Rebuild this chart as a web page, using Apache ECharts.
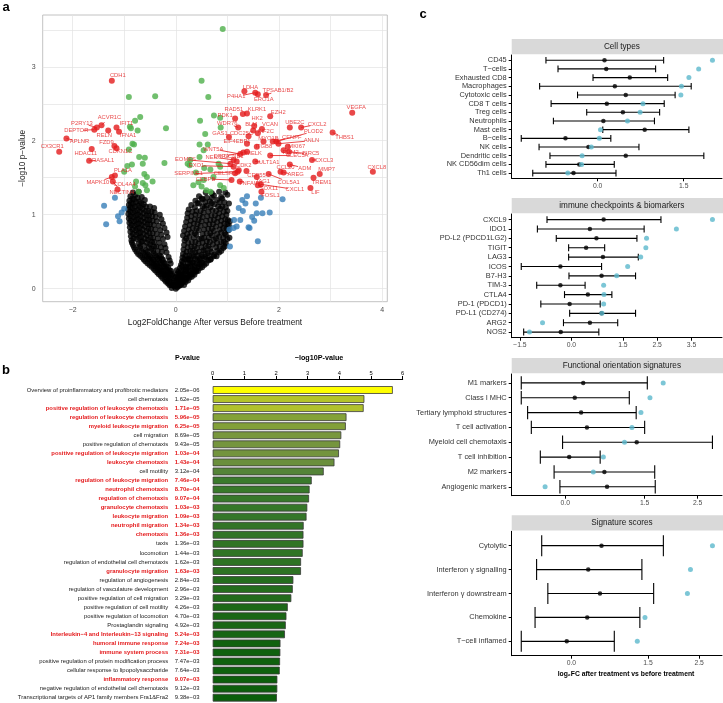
<!DOCTYPE html>
<html><head><meta charset="utf-8">
<script src="https://cdn.jsdelivr.net/npm/echarts@6/dist/echarts.min.js"></script>
<style>html,body{margin:0;padding:0;background:#fff}#c{width:723px;height:703px}</style>
</head><body><div id="c"></div>
<script>
// ================= DATA =================
// ---- Panel a : volcano (x = log2FC, y = -log10 p) ----
const volcanoBlack = [
[-0.08,0.01],[-0.03,0.03],[0.0,0.0],[0.03,0.02],[0.07,0.04],
[-0.15,0.07],[-0.09,0.05],[-0.04,0.08],[0.02,0.06],[0.06,0.09],[0.11,0.07],[0.16,0.05],
[-0.22,0.12],[-0.16,0.1],[-0.1,0.13],[-0.04,0.11],[0.03,0.14],[0.09,0.12],[0.15,0.1],[0.21,0.13],[0.24,0.11],
[-0.29,0.17],[-0.22,0.19],[-0.15,0.16],[-0.08,0.18],[0.0,0.16],[0.07,0.19],[0.14,0.17],[0.2,0.15],[0.27,0.18],[0.31,0.16],
[-0.36,0.22],[-0.29,0.24],[-0.22,0.21],[-0.15,0.23],[-0.07,0.2],[0.05,0.23],[0.12,0.21],[0.19,0.24],[0.26,0.22],[0.33,0.2],[0.39,0.23],
[-0.43,0.27],[-0.36,0.29],[-0.28,0.26],[-0.2,0.28],[-0.12,0.25],[0.08,0.28],[0.16,0.26],[0.24,0.29],[0.32,0.27],[0.4,0.25],[0.47,0.28],
[-0.51,0.32],[-0.43,0.34],[-0.35,0.31],[-0.27,0.33],[-0.18,0.3],[-0.1,0.34],[0.1,0.32],[0.19,0.3],[0.28,0.34],[0.37,0.31],[0.46,0.33],[0.55,0.32],
[-0.59,0.37],[-0.5,0.39],[-0.41,0.36],[-0.32,0.38],[-0.23,0.35],[-0.12,0.38],[0.12,0.37],[0.22,0.39],[0.32,0.36],[0.42,0.38],[0.52,0.35],[0.63,0.38],
[-0.65,0.42],[-0.56,0.44],[-0.47,0.41],[-0.37,0.43],[-0.27,0.4],[-0.14,0.43],[0.13,0.42],[0.24,0.4],[0.35,0.44],[0.46,0.41],[0.57,0.43],[0.68,0.4],[0.74,0.44],
[-0.73,0.47],[-0.63,0.49],[-0.53,0.46],[-0.43,0.48],[-0.32,0.45],[-0.18,0.49],[0.14,0.47],[0.26,0.45],[0.38,0.49],[0.5,0.46],[0.62,0.48],[0.74,0.46],[0.84,0.49],
[-0.79,0.53],[-0.69,0.55],[-0.58,0.52],[-0.47,0.54],[-0.35,0.51],[-0.2,0.55],[0.15,0.53],[0.28,0.51],[0.41,0.55],[0.54,0.52],[0.67,0.54],[0.8,0.51],[0.92,0.55],
[-0.83,0.59],[-0.72,0.61],[-0.61,0.58],[-0.5,0.6],[-0.38,0.57],[-0.22,0.6],[0.16,0.59],[0.3,0.57],[0.44,0.61],[0.58,0.58],[0.72,0.6],[0.85,0.57],[0.97,0.61],
[-0.86,0.65],[-0.76,0.67],[-0.65,0.64],[-0.54,0.66],[-0.42,0.63],[-0.25,0.67],[0.17,0.65],[0.31,0.63],[0.45,0.67],[0.6,0.64],[0.74,0.66],[0.88,0.63],[1.0,0.67],
[-0.87,0.71],[-0.77,0.73],[-0.67,0.7],[-0.56,0.72],[-0.44,0.69],[-0.28,0.73],[-0.16,0.7],[0.14,0.72],[0.26,0.7],[0.4,0.73],[0.55,0.69],[0.7,0.72],[0.84,0.7],[0.97,0.73],[1.04,0.69],
[-0.88,0.77],[-0.78,0.79],[-0.68,0.76],[-0.57,0.78],[-0.45,0.75],[-0.3,0.79],[-0.18,0.76],[0.16,0.78],[0.3,0.76],[0.45,0.79],[0.6,0.75],[0.74,0.78],[0.88,0.76],[1.02,0.79],
[-0.89,0.83],[-0.8,0.85],[-0.7,0.82],[-0.6,0.84],[-0.48,0.81],[-0.33,0.85],[-0.22,0.82],[0.18,0.84],[0.33,0.82],[0.48,0.85],[0.63,0.81],[0.78,0.84],[0.92,0.82],[1.03,0.85],
[-0.9,0.89],[-0.81,0.91],[-0.71,0.88],[-0.61,0.9],[-0.5,0.87],[-0.37,0.91],[-0.25,0.88],[0.2,0.9],[0.35,0.88],[0.5,0.91],[0.65,0.87],[0.8,0.9],[0.94,0.88],[1.05,0.91],
[-0.91,0.95],[-0.82,0.97],[-0.72,0.94],[-0.62,0.96],[-0.51,0.93],[-0.39,0.97],[-0.28,0.94],[0.22,0.96],[0.37,0.94],[0.52,0.97],[0.67,0.93],[0.82,0.96],[0.96,0.94],
[-0.92,1.01],[-0.83,1.03],[-0.73,1.0],[-0.63,1.02],[-0.52,0.99],[-0.41,1.03],[-0.31,1.0],[0.23,1.02],[0.38,1.0],[0.54,1.03],[0.69,0.99],[0.84,1.02],[0.98,1.0],
[-0.92,1.07],[-0.84,1.09],[-0.74,1.06],[-0.64,1.08],[-0.53,1.05],[-0.42,1.09],[0.25,1.07],[0.4,1.05],[0.56,1.09],[0.71,1.06],[0.86,1.08],[1.0,1.05],
[-0.91,1.13],[-0.83,1.15],[-0.73,1.12],[-0.62,1.14],[-0.5,1.11],[0.3,1.13],[0.45,1.15],[0.6,1.12],[0.75,1.14],[0.9,1.11],[1.03,1.15],
[-0.9,1.19],[-0.81,1.21],[-0.71,1.18],[-0.6,1.2],[0.38,1.19],[0.52,1.21],[0.66,1.18],[0.8,1.2],[0.94,1.17],
[-0.88,1.25],[-0.78,1.27],[-0.66,1.24],[0.45,1.25],[0.6,1.23],[0.74,1.26],[0.88,1.24],[1.0,1.27],
[-0.83,1.3],[-0.72,1.31],[0.58,1.3],[0.7,1.29],[0.84,1.31],[0.96,1.3],
[-0.12,0.045],[-0.05,0.05],[0.05,0.04],[0.1,0.05],
[-0.19,0.095],[-0.12,0.1],[0.0,0.09],[0.08,0.1],[0.13,0.095],[0.19,0.09],
[-0.26,0.145],[-0.19,0.15],[-0.12,0.14],[-0.01,0.15],[0.06,0.14],[0.12,0.15],[0.18,0.145],[0.27,0.15],
[-0.33,0.195],[-0.25,0.2],[-0.18,0.19],[-0.11,0.2],[0.03,0.2],[0.1,0.19],[0.17,0.2],[0.23,0.19],[0.3,0.2],[0.36,0.19],
[-0.4,0.245],[-0.32,0.25],[-0.25,0.24],[-0.17,0.25],[-0.09,0.24],[0.02,0.25],[0.1,0.24],[0.2,0.25],[0.28,0.24],[0.36,0.25],[0.43,0.24],
[-0.47,0.295],[-0.4,0.3],[-0.31,0.29],[-0.23,0.3],[-0.15,0.29],[0.12,0.3],[0.2,0.29],[0.28,0.3],[0.36,0.29],[0.44,0.3],[0.51,0.29],
[-0.55,0.345],[-0.47,0.35],[-0.38,0.34],[-0.3,0.35],[-0.21,0.34],[0.14,0.35],[0.23,0.34],[0.33,0.35],[0.41,0.34],[0.5,0.35],[0.59,0.34],
[-0.62,0.395],[-0.53,0.4],[-0.44,0.39],[-0.35,0.4],[-0.25,0.39],[0.17,0.4],[0.27,0.39],[0.37,0.4],[0.47,0.39],[0.57,0.4],[0.67,0.39],
[-0.69,0.445],[-0.6,0.45],[-0.5,0.44],[-0.4,0.45],[-0.29,0.44],[0.19,0.45],[0.3,0.44],[0.41,0.45],[0.52,0.44],[0.63,0.45],[0.79,0.44],
[-0.76,0.5],[-0.66,0.51],[-0.55,0.5],[-0.44,0.51],[-0.27,0.5],[0.21,0.5],[0.33,0.51],[0.45,0.5],[0.57,0.51],[0.69,0.5],[0.88,0.51],
[-0.81,0.56],[-0.7,0.57],[-0.52,0.56],[-0.42,0.57],[-0.29,0.56],[0.23,0.56],[0.36,0.57],[0.5,0.56],[0.63,0.57],[0.78,0.56],[0.95,0.57],
[-0.85,0.62],[-0.67,0.63],[-0.56,0.62],[-0.46,0.63],[-0.32,0.62],[0.24,0.62],[0.38,0.63],[0.52,0.62],[0.66,0.63],[0.8,0.62],[0.93,0.63],
[-0.82,0.68],[-0.71,0.69],[-0.6,0.68],[-0.49,0.69],[-0.35,0.68],[0.2,0.68],[0.35,0.69],[0.5,0.68],[0.64,0.69],[0.78,0.68],[0.92,0.69],
[-0.83,0.74],[-0.72,0.75],[-0.62,0.74],[-0.51,0.75],[-0.37,0.74],[0.22,0.74],[0.37,0.75],[0.52,0.74],[0.67,0.75],[0.8,0.74],[0.95,0.75],
[-0.84,0.8],[-0.75,0.81],[-0.64,0.8],[-0.53,0.81],[-0.4,0.8],[0.25,0.8],[0.4,0.81],[0.55,0.8],[0.7,0.81],[0.85,0.8],[0.98,0.81],
[-0.86,0.86],[-0.76,0.87],[-0.66,0.86],[-0.55,0.87],[-0.43,0.86],[0.27,0.86],[0.42,0.87],[0.57,0.86],[0.72,0.87],[0.87,0.86],[1.0,0.87],
[-0.87,0.92],[-0.77,0.93],[-0.67,0.92],[-0.56,0.93],[-0.45,0.92],[0.29,0.92],[0.44,0.93],[0.59,0.92],[0.74,0.93],[0.88,0.92],[1.01,0.93],
[-0.88,0.98],[-0.78,0.99],[-0.68,0.98],[-0.57,0.99],[-0.46,0.98],[0.3,0.98],[0.46,0.99],[0.61,0.98],[0.76,0.99],[0.9,0.98],
[-0.88,1.04],[-0.79,1.05],[-0.69,1.04],[-0.58,1.05],[-0.47,1.04],[0.32,1.04],[0.48,1.05],[0.63,1.04],[0.78,1.05],[0.93,1.04],
[-0.88,1.1],[-0.79,1.11],[-0.69,1.1],[-0.58,1.11],[0.37,1.1],[0.52,1.11],[0.67,1.1],[0.82,1.11],[0.97,1.1],
[-0.87,1.16],[-0.77,1.17],[-0.67,1.16],[0.42,1.16],[0.57,1.17],[0.7,1.16],[0.85,1.17],
[-0.84,1.22],[-0.74,1.23],[0.5,1.22],[0.7,1.23],[0.9,1.22]
];
const volcanoBlue = [
[-1.39,1.12],[-1.18,1.23],[-1.35,0.87],[-1.09,0.91],[-1.0,1.08],[-1.05,1.03],[-1.12,0.98],
[1.05,0.57],[1.12,0.82],[1.18,0.84],[1.25,0.93],[1.41,0.83],[1.43,0.82],[1.48,0.97],[1.57,1.02],
[1.59,0.64],[1.52,0.92],[1.68,1.02],[1.82,1.03],[2.07,1.21],[1.65,1.23],[1.29,1.2],[1.35,1.15],
[1.22,1.09],[1.13,0.93],[1.04,0.8],[1.3,1.05],[1.55,1.15],[1.38,1.25]
];
const volcanoGreen = [
[-0.91,2.59],[-0.4,2.6],[-0.79,2.27],[-0.69,2.32],[-0.89,2.19],[-0.74,2.14],[-0.87,2.17],[-0.84,1.96],
[-0.81,1.95],[-0.91,1.88],[-0.71,1.78],[-0.6,1.77],[-0.64,1.69],[-0.85,1.68],[-0.94,1.66],[-1.0,1.58],
[-0.19,2.17],[-0.22,1.7],[-0.61,1.55],[-0.56,1.51],[-0.45,1.45],[-0.64,1.43],[-0.77,1.45],[-0.59,1.4],
[-0.56,1.33],[-0.79,1.38],[-0.72,1.31],
[0.91,3.51],[0.5,2.81],[0.63,2.59],[0.74,2.34],[0.86,2.31],[0.87,2.18],[0.47,2.27],[0.57,2.09],
[0.46,1.95],[0.62,1.95],[0.54,1.87],[0.46,1.78],[0.28,1.74],[0.23,1.69],[0.27,1.67],[0.39,1.57],
[0.55,1.63],[0.67,1.61],[0.83,1.69],[0.86,1.65],[0.73,1.51],[0.44,1.44],[0.34,1.4],[0.5,1.38],
[0.59,1.33],[0.67,1.31],[0.86,1.4],[0.93,1.36],[0.54,1.47]
];
const redGenes = ['CDH1','ACVR1C','P2RY13','DEPTOR','RELN','IFIT1','IFNA1','APLNR','FZD9','CX3CR1','HDAC11','CDKN1C','RASAL1','PLA1A','MAPK10','COL4A4','NECTIN4',
'LDHA','TPSAB1/B2','ERO1A','P4HA1','RAD51','KLRK1','PDK1','EZH2','HK2','VCAN','UBE2C','CXCL2','WDR76','BLM','GAS1','CDC25C','KIF2C','PLOD2','THBS1','VEGFA',
'MYO1B','CENPF','ANLN','EIF4EBP1','ITGB8','MKI67','BIRC5','RRM2','WNT5A','DPP4','MELK','CXCL3','EOMES','NEIL3','CCNB1','SULT1A1','CLEC5A','EXO1','CDK2','CCL20',
'ADM','MMP7','SERPINE1','CELSR1','CEP55','AREG','CEBPB','JAG1','COL5A1','TREM1','TNFAIP6','SOX11','CXCL1','LIF','FOSL1','CXCL8'];
const redX = [-1.24,-1.44,-1.53,-1.58,-1.31,-1.15,-1.10,-2.12,-1.19,-2.26,-1.63,-1.15,-1.68,-1.18,-1.24,-1.13,-1.22,
1.33,1.75,1.59,1.54,1.30,1.38,1.15,1.83,1.52,1.67,2.21,2.43,1.21,1.50,1.03,1.41,1.59,1.95,3.04,3.42,
1.70,1.88,1.99,1.38,1.57,2.17,2.19,2.09,1.25,1.31,1.38,2.64,1.06,1.12,1.18,1.54,1.83,1.12,1.22,2.03,
2.21,2.79,1.20,1.15,1.37,2.09,1.08,1.57,1.80,2.67,1.24,1.59,1.65,2.61,1.66,3.82];
const redY = [2.81,2.21,2.18,2.15,2.14,2.18,2.12,2.03,1.93,1.85,1.89,1.90,1.73,1.53,1.51,1.34,1.45,
2.67,2.62,2.63,2.65,2.36,2.37,2.30,2.33,2.20,2.16,2.18,2.18,2.18,2.14,2.05,2.06,2.10,1.99,2.11,2.38,
1.99,1.99,1.96,1.96,1.92,1.92,1.85,1.87,1.82,1.84,1.85,1.74,1.69,1.74,1.72,1.72,1.80,1.65,1.60,1.58,
1.68,1.55,1.58,1.56,1.59,1.57,1.47,1.51,1.55,1.50,1.45,1.40,1.41,1.36,1.31,1.58];
const volcanoXTicks = [-2, 0, 2, 4];
const volcanoYTicks = [0, 1, 2, 3];

// ---- Panel b : enrichment ----
const termNames = ['Overview of proinflammatory and profibrotic mediators','cell chemotaxis','positive regulation of leukocyte chemotaxis',
'regulation of leukocyte chemotaxis','myeloid leukocyte migration','cell migration','positive regulation of chemotaxis',
'positive regulation of leukocyte migration','leukocyte chemotaxis','cell motility','regulation of leukocyte migration',
'neutrophil chemotaxis','regulation of chemotaxis','granulocyte chemotaxis','leukocyte migration','neutrophil migration',
'chemotaxis','taxis','locomotion','regulation of endothelial cell chemotaxis','granulocyte migration','regulation of angiogenesis',
'regulation of vasculature development','positive regulation of cell migration','positive regulation of cell motility',
'positive regulation of locomotion','Prostaglandin signaling','Interleukin−4 and Interleukin−13 signaling','humoral immune response',
'immune system process','positive regulation of protein modification process','cellular response to lipopolysaccharide',
'inflammatory response','negative regulation of endothelial cell chemotaxis','Transcriptional targets of AP1 family members Fra1&Fra2'];
const termPvalText = ['2.05e−06','1.62e−05','1.71e−05','5.96e−05','6.25e−05','8.69e−05','9.43e−05','1.03e−04','1.43e−04','3.12e−04',
'7.46e−04','8.70e−04','9.07e−04','1.03e−03','1.09e−03','1.34e−03','1.36e−03','1.36e−03','1.44e−03','1.62e−03','1.63e−03',
'2.84e−03','2.96e−03','3.29e−03','4.26e−03','4.70e−03','4.92e−03','5.24e−03','7.24e−03','7.31e−03','7.47e−03','7.64e−03',
'9.07e−03','9.12e−03','9.38e−03'];
const termLogP = [5.688,4.790,4.767,4.225,4.204,4.061,4.026,3.987,3.845,3.506,3.127,3.060,3.042,2.987,2.963,2.873,2.866,2.866,
2.842,2.790,2.788,2.547,2.529,2.483,2.371,2.328,2.308,2.281,2.140,2.136,2.127,2.117,2.042,2.040,2.028];
const termHighlight = [0,0,1,1,1,0,0,1,1,0,1,1,1,1,1,1,1,0,0,0,1,0,0,0,0,0,0,1,1,1,0,0,1,0,0];

// ---- Panel c : four facets ----
const facetTickValues = [-1.5, 0, 1.5, 2.5, 3.5];
const cellTypeNames = ['CD45','T−cells','Exhausted CD8','Macrophages','Cytotoxic cells','CD8 T cells','Treg cells','Neutrophils','Mast cells','B−cells','NK cells','Dendritic cells','NK CD56dim cells','Th1 cells'];
const cellTypeMean = [0.12,0.15,0.56,0.30,0.49,0.16,0.44,0.10,0.82,-0.56,-0.16,0.49,-0.32,-0.42];
const cellTypeLow  = [-0.90,-0.69,-0.08,-1.01,-0.35,-0.81,-0.19,-0.77,0.09,-1.33,-1.02,-0.83,-0.90,-1.13];
const cellTypeHigh = [1.15,1.01,1.22,1.63,1.35,1.16,1.08,0.99,1.59,0.23,0.72,1.85,0.29,0.32];
const cellTypeCyan = [2.00,1.76,1.59,1.46,1.45,0.79,0.74,0.52,0.05,0.03,-0.11,-0.27,-0.28,-0.52];

const checkpointNames = ['CXCL9','IDO1','PD-L2 (PDCD1LG2)','TIGIT','LAG3','ICOS','B7-H3','TIM-3','CTLA4','PD-1 (PDCD1)','PD-L1 (CD274)','ARG2','NOS2'];
const checkpointMean = [0.94,0.54,0.73,0.43,0.92,-0.32,0.88,-0.32,0.48,-0.05,0.88,0.54,-0.31];
const checkpointLow  = [-0.71,-0.99,-0.44,-0.08,-0.08,-1.46,-0.07,-1.01,-0.20,-0.89,-0.05,-0.23,-1.39];
const checkpointHigh = [2.61,2.12,1.91,0.97,1.95,0.88,1.87,0.40,1.18,0.84,1.87,1.35,0.80];
const checkpointCyan = [4.11,3.06,2.19,2.17,2.02,1.64,1.32,0.94,0.95,0.94,0.89,-0.84,-1.22];

const functionalNames = ['M1 markers','Class I MHC','Tertiary lymphoid structures','T cell activation','Myeloid cell chemotaxis','T cell inhibition','M2 markers','Angiogenic markers'];
const functionalMean = [0.34,0.18,0.30,0.41,1.35,0.075,0.74,0.79];
const functionalLow  = [-0.83,-0.83,-0.71,-0.64,-0.05,-0.47,-0.21,-0.10];
const functionalHigh = [1.55,1.21,1.34,1.50,2.78,0.66,1.69,1.70];
const functionalCyan = [1.85,1.60,1.43,1.26,1.12,0.72,0.53,-0.38];

const signatureNames = ['Cytolytic','Interferon γ signalling','Interferon γ downstream','Chemokine','T−cell inflamed'];
const signatureMean = [0.59,0.33,0.56,0.31,-0.09];
const signatureLow  = [-0.58,-0.68,-0.46,-0.71,-0.98];
const signatureHigh = [1.80,1.38,1.61,1.34,0.84];
const signatureCyan = [2.76,2.33,2.27,1.44,1.29];

// ================= STYLE / LAYOUT =================
const FONT = '"Liberation Sans", Arial, Helvetica, sans-serif';
const RED = '#e41a1c', GREEN = '#4daf4a', BLUE = '#377eb8', CYAN = '#5bb8cc';
// label offsets in pixels (label centre relative to point)
const labelOffset = {CDH1:[6,-5],ACVR1C:[8,-8],P2RY13:[-15,-4],DEPTOR:[-18,1],RELN:[-4,5],IFIT1:[10,-4],IFNA1:[9,4],APLNR:[13,3],
FZD9:[-8,-4],CX3CR1:[-7,-5],HDAC11:[-6,5],CDKN1C:[4,3],RASAL1:[14,0],PLA1A:[8,-5],MAPK10:[-14,5],COL4A4:[7,-5],NECTIN4:[9,11],
LDHA:[6,-4],'TPSAB1/B2':[12,-4],ERO1A:[6,5],P4HA1:[-19,4],RAD51:[-9,-5],KLRK1:[10,-4],PDK1:[-10,-3],EZH2:[8,-4],HK2:[3,-8],
VCAN:[8,-5],UBE2C:[5,-5],CXCL2:[16,-3],WDR76:[-11,-4],BLM:[-2,-6],GAS1:[-9,-4],CDC25C:[-7,-3],KIF2C:[8,-2],PLOD2:[37,-10],
THBS1:[12,5],VEGFA:[4,-5],MYO1B:[5,-3],CENPF:[19,-4],ANLN:[33,-3],EIF4EBP1:[-10,-2],ITGB8:[7,0],MKI67:[9,0],BIRC5:[22,2],
RRM2:[7,2],WNT5A:[-27,-5],DPP4:[-22,4],MELK:[7,2],CXCL3:[12,0],EOMES:[-45,-4],NEIL3:[-20,-3],CCNB1:[-3,-5],SULT1A1:[12,1],
CLEC5A:[27,0],EXO1:[-37,-1],CDK2:[5,-5],CCL20:[5,-4],ADM:[15,4],MMP7:[7,-5],SERPINE1:[-49,2],CELSR1:[-10,0],CEP55:[10,4],
AREG:[12,2],CEBPB:[-26,-1],JAG1:[6,4],COL5A1:[20,8],TREM1:[8,5],TNFAIP6:[11,2],SOX11:[11,3],CXCL1:[34,5],LIF:[5,4],FOSL1:[9,4],CXCL8:[4,-4]};

const facets = [
  {title:'Cell types', names:cellTypeNames, mean:cellTypeMean, low:cellTypeLow, high:cellTypeHigh, cyan:cellTypeCyan, top:55, bottom:178.3, cap:0.38},
  {title:'immune checkpoints & biomarkers', names:checkpointNames, mean:checkpointMean, low:checkpointLow, high:checkpointHigh, cyan:checkpointCyan, top:214, bottom:337.7, cap:0.37},
  {title:'Functional orientation signatures', names:functionalNames, mean:functionalMean, low:functionalLow, high:functionalHigh, cyan:functionalCyan, top:374, bottom:495.7, cap:0.45},
  {title:'Signature scores', names:signatureNames, mean:signatureMean, low:signatureLow, high:signatureHigh, cyan:signatureCyan, top:531.3, bottom:655.7, cap:0.44}
];
const FACET_LEFT = 511.7, FACET_W = 210.3;

const minus = s => String(s).replace('-', '−');

// bar colour ramp (dark green -> yellow)
const rampStops = [[0,[11,94,11]],[0.15,[38,110,30]],[0.3,[58,122,44]],[0.42,[88,134,58]],[0.55,[118,150,62]],[0.7,[160,185,45]],[0.8,[195,203,40]],[1,[255,255,0]]];
function rampColor(v){
  const mn = Math.min(...termLogP), mx = Math.max(...termLogP);
  const t = (v - mn) / (mx - mn);
  for (let i = 1; i < rampStops.length; i++){
    if (t <= rampStops[i][0]){
      const a = rampStops[i-1], b = rampStops[i], f = (t - a[0])/(b[0]-a[0]);
      const c = a[1].map((x,k)=>Math.round(x + (b[1][k]-x)*f));
      return 'rgb('+c.join(',')+')';
    }
  }
  return 'rgb(255,255,0)';
}

// ================= OPTION =================
const grids = [], xAxes = [], yAxes = [], series = [], graphics = [];

// ---- Panel a ----
grids.push({left:42.7, top:15, width:344.6, height:286.7, show:true, borderColor:'#b3b3b3', borderWidth:0.8, backgroundColor:'#fff', outerBoundsMode:'none', containLabel:false});
xAxes.push({gridIndex:0, type:'value', min:-2.58, max:4.1,
  axisLine:{show:false}, axisTick:{show:false, customValues:[-2,-1,0,1,2,3,4]},
  axisLabel:{customValues:volcanoXTicks, formatter:v=>minus(v), fontSize:7, color:'#4d4d4d', margin:5, fontFamily:FONT},
  splitLine:{show:true, lineStyle:{color:'#e3e3e3', width:0.7}},
  name:'Log2FoldChange After versus Before treatment', nameLocation:'middle', nameGap:17,
  nameTextStyle:{fontSize:8.3, color:'#1a1a1a', fontFamily:FONT}});
yAxes.push({gridIndex:0, type:'value', min:-0.176, max:3.70,
  axisLine:{show:false}, axisTick:{show:false, customValues:[0,0.5,1,1.5,2,2.5,3,3.5]},
  axisLabel:{customValues:volcanoYTicks, fontSize:7, color:'#4d4d4d', margin:7, fontFamily:FONT},
  splitLine:{show:true, lineStyle:{color:'#e3e3e3', width:0.7}},
  name:'−log10 p−value', nameLocation:'middle', nameGap:16,
  nameTextStyle:{fontSize:8.3, color:'#1a1a1a', fontFamily:FONT}});
const volcSym = {type:'scatter', xAxisIndex:0, yAxisIndex:0, symbolSize:6, silent:true};
series.push(Object.assign({}, volcSym, {data:volcanoBlack, itemStyle:{color:'#000'}}));
series.push(Object.assign({}, volcSym, {data:volcanoBlue, itemStyle:{color:BLUE}}));
series.push(Object.assign({}, volcSym, {data:volcanoGreen, itemStyle:{color:GREEN}}));
// repel segments from point to displaced label
series.push({type:'custom', xAxisIndex:0, yAxisIndex:0, silent:true, z:3,
  data: redGenes.map((g,i)=>[redX[i], redY[i], i]),
  renderItem:(params, api)=>{
    const p = api.coord([api.value(0), api.value(1)]);
    const o = labelOffset[redGenes[api.value(2)]] || [0,0];
    const d = Math.hypot(o[0], o[1]);
    if (d < 11) return null;
    const s = (d - 7) / d;
    return {type:'line', shape:{x1:p[0], y1:p[1], x2:p[0]+o[0]*s, y2:p[1]+o[1]*s}, style:{stroke:RED, lineWidth:0.8}};
  }});
series.push(Object.assign({}, volcSym, {
  data: redGenes.map((g,i)=>({name:g, value:[redX[i], redY[i]]})),
  itemStyle:{color:RED}, z:4,
  label:{show:true, formatter:'{b}', position:'inside', fontSize:5.8, color:RED, fontFamily:FONT},
  labelLayout: p => { const o = labelOffset[redGenes[p.dataIndex]] || [0,-6]; return {dx:o[0], dy:o[1], hideOverlap:false}; }
}));

// ---- Panel b ----
const ROW = 9.05;
grids.push({left:212.7, top:390 - ROW/2, width:190, height:ROW*termNames.length, outerBoundsMode:'none', containLabel:false});
xAxes.push({gridIndex:1, type:'value', position:'top', min:0, max:6, interval:1, offset:6.5,
  axisLine:{show:true, lineStyle:{color:'#000', width:1}},
  axisTick:{show:true, length:3, lineStyle:{color:'#000'}},
  axisLabel:{fontSize:5.8, color:'#000', margin:3, fontFamily:FONT},
  splitLine:{show:false}});
yAxes.push({gridIndex:1, type:'category', data:termNames, inverse:true,
  axisLine:{show:false}, axisTick:{show:false},
  axisLabel:{margin:11.5, interval:0, fontFamily:FONT,
    formatter:(v,i)=> termHighlight[i] ? '{rn|'+v+'}{rp|'+termPvalText[i]+'}' : '{n|'+v+'}{p|'+termPvalText[i]+'}',
    rich:{
      n:{fontSize:5.9, color:'#1a1a1a', fontFamily:FONT, padding:[0,5,0,0]},
      rn:{fontSize:5.9, color:RED, fontWeight:'bold', fontFamily:FONT, padding:[0,5,0,0]},
      p:{fontSize:5.9, color:'#1a1a1a', fontFamily:FONT, width:28, align:'left'},
      rp:{fontSize:5.9, color:RED, fontWeight:'bold', fontFamily:FONT, width:28, align:'left'}
    }}});
series.push({type:'bar', xAxisIndex:1, yAxisIndex:1, data:termLogP, barCategoryGap:'14%', silent:true,
  itemStyle:{borderColor:'#3a3a3a', borderWidth:0.8, color:p=>rampColor(p.value)}});

// ---- Panel c ----
function errRender(cap){
  return function(params, api){
    const lo = api.value(0), hi = api.value(1), yi = api.value(2);
    const p1 = api.coord([lo, yi]), p2 = api.coord([hi, yi]);
    const h = Math.abs(api.size([0,1])[1]) * cap;
    const st = {stroke:'#000', lineWidth:1.1};
    return {type:'group', children:[
      {type:'line', shape:{x1:p1[0], y1:p1[1], x2:p2[0], y2:p2[1]}, style:st},
      {type:'line', shape:{x1:p1[0], y1:p1[1]-h, x2:p1[0], y2:p1[1]+h}, style:st},
      {type:'line', shape:{x1:p2[0], y1:p2[1]-h, x2:p2[0], y2:p2[1]+h}, style:st}
    ]};
  };
}
facets.forEach((f, k) => {
  const gi = 2 + k;
  const n = f.names.length;
  const all = f.low.concat(f.high, f.cyan, f.mean);
  const mn = Math.min(...all), mx = Math.max(...all), pad = (mx - mn) * 0.05;
  const lo = mn - pad, hi = mx + pad;
  const ticks = facetTickValues.filter(v => v >= lo && v <= hi);
  const idx = f.names.map((_, i) => i);
  grids.push({left:FACET_LEFT, top:f.top, width:FACET_W, height:f.bottom - f.top, outerBoundsMode:'none', containLabel:false});
  xAxes.push({gridIndex:gi, type:'value', min:lo, max:hi,
    axisLine:{show:true, onZero:false, lineStyle:{color:'#000', width:1}},
    axisTick:{show:true, length:3, customValues:ticks, lineStyle:{color:'#000'}},
    axisLabel:{customValues:ticks, formatter:v=>minus(Number(v).toFixed(1)), fontSize:6.8, color:'#4d4d4d', margin:4, fontFamily:FONT},
    splitLine:{show:false}});
  yAxes.push({gridIndex:gi, type:'value', inverse:true, min:-0.6, max:n - 0.4,
    axisLine:{show:true, onZero:false, lineStyle:{color:'#000', width:1}},
    axisTick:{show:true, length:3, customValues:idx, lineStyle:{color:'#000'}},
    axisLabel:{customValues:idx, formatter:v=>f.names[Math.round(v)], fontSize:7.4, color:'#333', margin:5, fontFamily:FONT},
    splitLine:{show:false}});
  series.push({type:'custom', xAxisIndex:gi, yAxisIndex:gi, silent:true,
    data: idx.map(i => [f.low[i], f.high[i], i]),
    encode:{x:[0,1], y:2}, renderItem: errRender(f.cap)});
  series.push({type:'scatter', xAxisIndex:gi, yAxisIndex:gi, silent:true, symbolSize:4.5,
    data: idx.map(i => [f.mean[i], i]), itemStyle:{color:'#000'}});
  series.push({type:'scatter', xAxisIndex:gi, yAxisIndex:gi, silent:true, symbolSize:5,
    data: idx.map(i => [f.cyan[i], i]), itemStyle:{color:CYAN}});
  graphics.push({type:'rect', shape:{x:FACET_LEFT, y:f.top - 16, width:FACET_W + 2, height:15.3}, style:{fill:'#d9d9d9'}, silent:true});
  graphics.push({type:'text', x:FACET_LEFT + FACET_W/2 + 5, y:f.top - 8.3, silent:true,
    style:{text:f.title, font:'8.2px ' + FONT, fill:'#1a1a1a', textAlign:'center', textVerticalAlign:'middle'}});
});

// ---- panel letters and headers ----
const txt = (t, x, y, font, align, fill) => ({type:'text', x:x, y:y, silent:true,
  style:{text:t, font:font, fill:fill || '#000', textAlign:align || 'center', textVerticalAlign:'middle'}});
graphics.push(txt('a', 6, 7, 'bold 13px ' + FONT));
graphics.push(txt('b', 6, 370, 'bold 13px ' + FONT));
graphics.push(txt('c', 423, 14, 'bold 13px ' + FONT));
graphics.push(txt('P-value', 200, 357.7, 'bold 7px ' + FONT, 'right'));
graphics.push(txt('−log10P-value', 319, 357.7, 'bold 7.2px ' + FONT, 'center'));
graphics.push(txt('log\u2082FC after treatment vs before treatment', 626, 674, 'bold 6.8px ' + FONT, 'center'));

const option = {
  backgroundColor:'#fff', animation:false,
  textStyle:{fontFamily:FONT},
  grid:grids, xAxis:xAxes, yAxis:yAxes, series:series, graphic:graphics
};
const chart = echarts.init(document.getElementById('c'), null, {width:723, height:703, renderer:'canvas'});
chart.setOption(option);
</script></body></html>
